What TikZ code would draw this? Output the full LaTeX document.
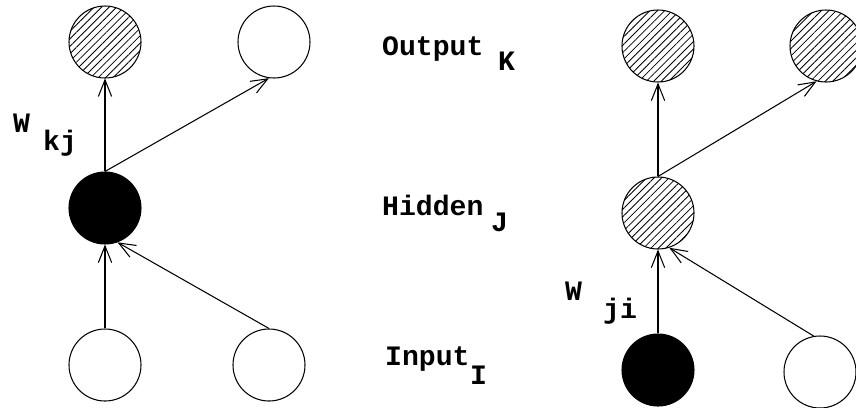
\documentclass[tikz,border=0pt]{standalone}
\usepackage{fontspec}
\usepackage{tikz}
\usetikzlibrary{arrows.meta,patterns.meta}
\newfontfamily\lblfont{Liberation Mono}

\begin{document}
\begin{tikzpicture}[
  x=0.03cm, y=-0.03cm,
  unit/.style={draw, circle, minimum size=2.16cm, inner sep=0pt, line width=0.9pt},
  offunit/.style={unit, fill=white},
  onunit/.style={unit, fill=black},
  midunit/.style={unit, pattern={Lines[angle=45,distance=4.5pt,line width=0.7pt]}},
  wire/.style={-{Straight Barb[length=5mm,width=4mm]}, line width=0.9pt},
  lbl/.style={font=\lblfont\bfseries\fontsize{24}{24}\selectfont, inner sep=0pt, anchor=base west},
]
\useasboundingbox (0,0) rectangle (856,407);

% --- left net: hidden unit on, error sent up to the outputs
\node[midunit] (o1) at (105,42)  {};
\node[offunit] (o2) at (274,42)  {};
\node[onunit]  (h1) at (105,208) {};
\node[offunit] (i1) at (105,365) {};
\node[offunit] (i2) at (269,365) {};

\draw[wire] (h1.north) -- (o1.south);
\draw[wire] (h1.north) -- (o2.-98);
\draw[wire] (i1.north) -- (h1.south);
\draw[wire] (i2.north) -- (h1.-70);

\node[lbl] (wl)  at (13,132) {W};
\node[lbl] (wls) at (43,150) {kj};

% --- layer names in the middle
\node[lbl] (outname) at (382,55)  {Output};
\node[lbl] (outsub)  at (498,70)  {K};
\node[lbl] (hidname) at (382,215) {Hidden};
\node[lbl] (hidsub)  at (491,231) {J};
\node[lbl] (inname)  at (385,365) {Input};
\node[lbl] (insub)   at (470,384) {I};

% --- right net: input unit on, hidden unit shaded
\node[midunit] (ro1) at (658,46)  {};
\node[midunit] (ro2) at (826,46)  {};
\node[midunit] (rh1) at (658,213) {};
\node[onunit]  (ri1) at (658,370) {};
\node[offunit] (ri2) at (820,372) {};

\draw[wire] (rh1.north) -- (ro1.south);
\draw[wire] (rh1.north) -- (ro2.-105);
\draw[wire] (ri1.north) -- (rh1.south);
\draw[wire] (ri2.100) -- (rh1.-72);

\node[lbl] (wr)  at (565,300) {W};
\node[lbl] (wrs) at (603,318) {ji};
\end{tikzpicture}
\end{document}
